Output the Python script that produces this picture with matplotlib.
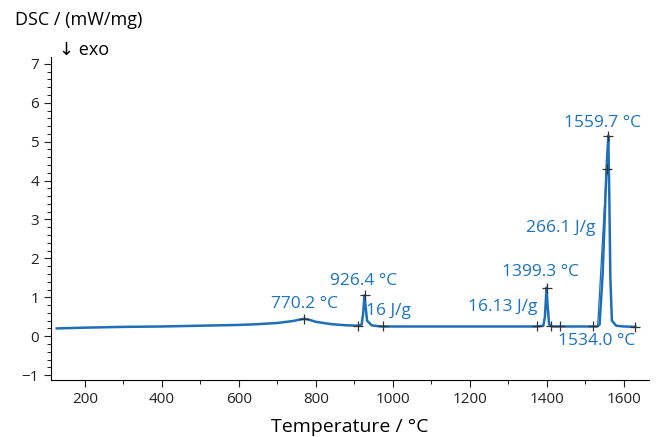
import matplotlib
matplotlib.use('Agg')
import matplotlib.pyplot as plt
from matplotlib.ticker import MultipleLocator

plt.rcParams['font.family'] = ['Open Sans', 'DejaVu Sans']

# DSC curve
temp = [127, 200, 300, 400, 500, 600, 650, 700, 740, 760, 770, 780, 800, 840, 880,
        910, 919, 923, 926.4, 929, 933, 945, 960, 975, 1000, 1100, 1200, 1300, 1375,
        1391, 1395, 1399.3, 1402, 1406, 1415, 1435, 1500, 1530, 1537, 1545, 1555,
        1559.7, 1562, 1565, 1569, 1580, 1600, 1630]
dsc = [0.2, 0.22, 0.24, 0.25, 0.27, 0.29, 0.31, 0.34, 0.39, 0.43, 0.45, 0.43, 0.37, 0.31, 0.28,
       0.27, 0.3, 0.6, 1.05, 0.8, 0.4, 0.28, 0.26, 0.25, 0.25, 0.25, 0.25, 0.25, 0.25,
       0.27, 0.5, 1.25, 0.8, 0.3, 0.25, 0.25, 0.25, 0.25, 0.3, 1.6, 4.3,
       5.15, 3.8, 1.5, 0.4, 0.27, 0.25, 0.24]

# evaluation markers
mark_t = [770.2, 910, 926.4, 975, 1375, 1399.3, 1410, 1435, 1520, 1555, 1559.7, 1630]
mark_v = [0.45, 0.27, 1.05, 0.25, 0.25, 1.25, 0.26, 0.25, 0.25, 4.3, 5.15, 0.24]

# tangent for onset 1534.0
tan_t = [1532.0, 1555]
tan_v = [0.25, 4.3]

labels = ['770.2 °C', '926.4 °C', '16 J/g', '16.13 J/g', '1399.3 °C',
          '266.1 J/g', '1559.7 °C', '1534.0 °C']
label_t = [770, 925, 929, 1376, 1384, 1525, 1545, 1530]
label_v = [0.82, 1.41, 0.64, 0.75, 1.65, 2.78, 5.48, -0.13]
label_ha = ['center', 'center', 'left', 'right', 'center', 'right', 'center', 'center']

line_c = '#1f6fb8'
text_c = '#1a73c2'

fig = plt.figure(figsize=(6.57, 4.37), dpi=100)
ax = fig.add_axes([0.0776, 0.130, 0.910, 0.740])

ax.plot(temp, dsc, color=line_c, lw=1.8)
ax.plot(tan_t, tan_v, color=line_c, lw=0.9)
ax.plot(mark_t, mark_v, '+', color='#333333', ms=7, mew=0.9)

for s, t, v, ha in zip(labels, label_t, label_v, label_ha):
    ax.text(t, v, s, color=text_c, fontsize=12.5, ha=ha, va='center')

ax.set_xlim(112, 1665)
ax.set_ylim(-1.13, 7.18)
ax.xaxis.set_major_locator(MultipleLocator(200))
ax.xaxis.set_minor_locator(MultipleLocator(100))
ax.yaxis.set_major_locator(MultipleLocator(1))
ax.yaxis.set_minor_locator(MultipleLocator(0.2))
for s in ['top', 'right']:
    ax.spines[s].set_visible(False)
ax.tick_params(labelsize=11, colors='#222222')
ax.tick_params(which='major', length=5)
ax.tick_params(which='minor', length=3)

ax.set_xlabel('Temperature / °C', fontsize=14, labelpad=8)
fig.text(0.023, 0.955, 'DSC / (mW/mg)', fontsize=13, va='center')
fig.text(0.09, 0.885, '↓ exo', fontsize=13, va='center')

fig.savefig('out.png', dpi=100)
